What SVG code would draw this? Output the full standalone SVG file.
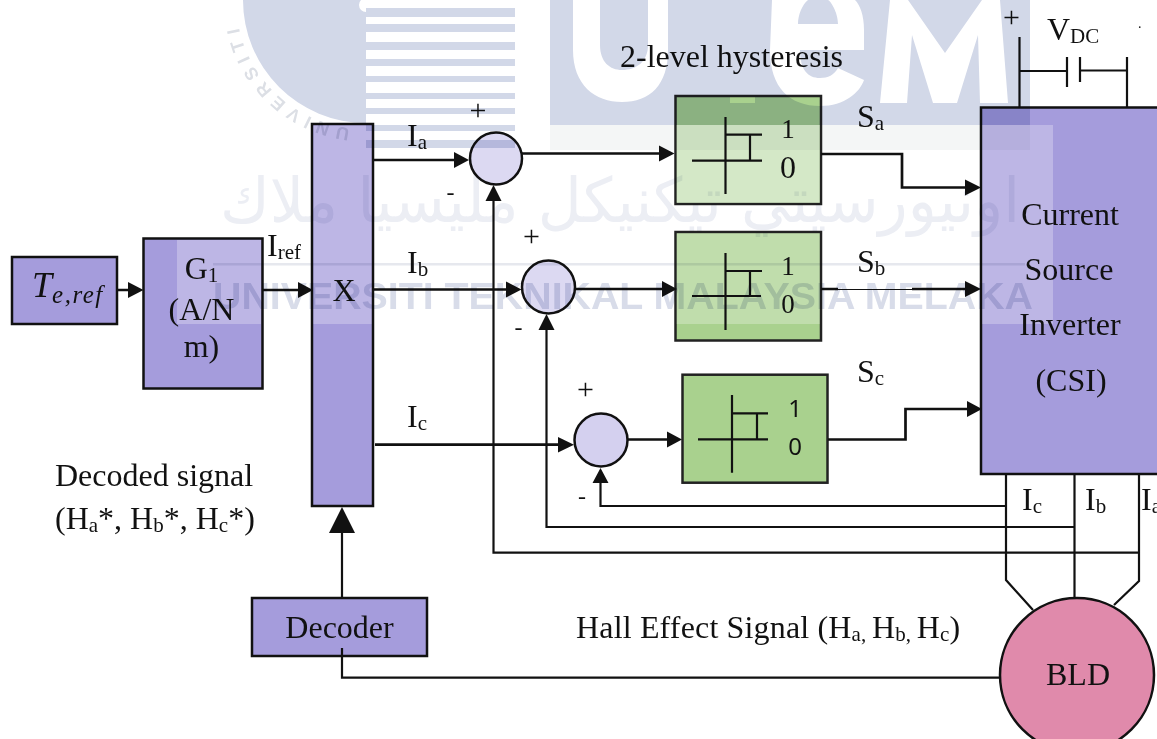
<svg xmlns="http://www.w3.org/2000/svg" width="1157" height="739" viewBox="0 0 1157 739">
<style>
text{font-family:"Liberation Serif","Times New Roman",serif;font-size:32px;fill:#111}
.m{text-anchor:middle}
.s{font-size:21px}
.b{fill:#a59cdc;stroke:#111;stroke-width:2.5}
.g{fill:#a9d18e;stroke:#222;stroke-width:2.5}
.o{fill:#d4d0ef;stroke:#111;stroke-width:2.5}
.w{fill:none;stroke:#111;stroke-width:2.7}
.t{fill:none;stroke:#111;stroke-width:2.2}
.h{fill:none;stroke:#111;stroke-width:2.2}
.a{fill:#111}
.l{fill:#fff;fill-opacity:.27}
.l2{fill:#fff;fill-opacity:.5}
.c{font-family:"Noto Sans",sans-serif;font-size:24px}
.p{font-size:30px}
.d{font-size:24px}
.wm{mix-blend-mode:multiply;fill:#d2d8e8}
</style>
<rect width="1157" height="739" fill="#fff"/>
<g id="node-te"><rect class="b" x="12" y="257" width="105" height="67"/><text x="32" y="297" font-style="italic" style="font-size:36px">T<tspan dy="6" style="font-size:25px" letter-spacing="1.5">e,ref</tspan></text></g>
<g id="node-g1"><rect class="b" x="143.500" y="238.500" width="119" height="150"/><rect class="l" x="177" y="240" width="84" height="84"/><text class="m" x="201.500" y="279">G<tspan class="s" dy="3">1</tspan></text><text class="m" x="201.500" y="320">(A/N</text><text class="m" x="201.500" y="357">m)</text></g>
<g id="node-x"><rect class="b" x="312" y="124" width="61" height="382"/><rect class="l" x="313.500" y="125.500" width="58" height="198.500"/><text class="m" x="344" y="301">X</text></g>
<g id="node-sum-a"><circle class="o" cx="496" cy="158.500" r="26" style="fill:#dcd9f2"/></g>
<g id="node-sum-b"><circle class="o" cx="548.500" cy="287" r="26.500" style="fill:#dcd9f2"/></g>
<g id="node-sum-c"><circle class="o" cx="601" cy="440" r="26.500"/></g>
<g id="node-hyst-a"><rect class="g" x="675.500" y="96" width="145.500" height="108"/><rect class="l2" x="676.700" y="125" width="143" height="77.800"/><path class="h" d="M725.500 117V194M692 160.700H762M725.500 134.700H762M750 134.700V160.700"/><text class="m" x="788" y="138" style="font-size:27px">1</text><text class="m" x="788" y="178">0</text></g>
<g id="node-hyst-b"><rect class="g" x="675.500" y="232" width="145.500" height="108.500"/><rect class="l" x="676.700" y="233.200" width="143" height="90.800"/><path class="h" d="M725.500 253V330M692 296H761M725.500 271H762M750 271V296"/><text class="m" x="788" y="275" style="font-size:27px">1</text><text class="m" x="788" y="313" style="font-size:27px">0</text></g>
<g id="node-hyst-c"><rect class="g" x="682.500" y="374.700" width="145" height="108"/><path class="h" d="M732 395V472.700M698 439.300H768M732 413.300H768M757 413.300V439.300"/><text class="m c" x="795" y="417">1</text><text class="m c" x="795" y="455">0</text></g>
<g id="node-csi"><rect class="b" x="981" y="107.500" width="190" height="366.500"/><rect class="l" x="982.300" y="125" width="70.700" height="199"/><text class="m" x="1070" y="225">Current</text><text class="m" x="1069" y="280">Source</text><text class="m" x="1070" y="335">Inverter</text><text class="m" x="1071" y="391">(CSI)</text></g>
<g id="node-decoder"><rect class="b" x="252" y="598" width="175" height="58"/><text class="m" x="339.500" y="638">Decoder</text></g>
<g id="node-bld"><circle cx="1077" cy="675" r="77" fill="#e08aab" stroke="#111" stroke-width="2.500"/><text class="m" x="1078" y="685">BLD</text></g>
<g id="connectors">
<path class="w" d="M117 290H130M262 290H300M374 160H456M373 289.500H509M375 444.700H560M522 153.500H661M575 289H664M628 439.500H669M821 154H902V187.500H967M821 289H838M912 289H967M828 439.500H905.500V409H969"/>
<path class="t" d="M1006 506H600.500V482M1074.500 527H546.500V329M1139 552.700H493.500V200M1006 474V580L1033 610M1074.500 474V598M1139 474V581L1114 605M342 598V530M342 648V677.700H1000M1019.500 37V107.500M1019.500 71H1067M1067 57V87M1080 57V82M1080 70.500H1127M1127 57V107.500"/>
<path d="M838 289.500H912" fill="none" stroke="#111" stroke-width="1.200"/>
<path class="a" d="M128 282L143.500 290L128 298ZM298 282L313 290L298 298ZM454 152L469 160L454 168ZM506 281.500L521.500 289.500L506 297.500ZM558 437L574 444.700L558 452.500ZM659 145.500L674.500 153.500L659 161.500ZM662 281L677 289L662 297ZM667 431.500L682 439.500L667 447.500ZM965 179.500L981 187.500L965 195.500ZM965 281L981 289L965 297ZM967 401L982 409L967 417ZM592.500 483L600.500 468L608.500 483ZM538.500 330L546.500 314L554.500 330ZM485.500 201L493.500 185L501.500 201ZM329 533L342 507L355 533Z"/>
</g>
<g id="labels">
<text x="620" y="67">2-level hysteresis</text>
<text x="267" y="256">I<tspan class="s" dy="3">ref</tspan></text>
<text x="407" y="146">I<tspan class="s" dy="3">a</tspan></text>
<text x="407" y="273">I<tspan class="s" dy="3">b</tspan></text>
<text x="407" y="427">I<tspan class="s" dy="3">c</tspan></text>
<text class="m p" x="478" y="120">+</text><text class="m p" x="531.500" y="246">+</text><text class="m p" x="585.500" y="399">+</text><text class="m p" x="1011.500" y="27">+</text>
<text class="m d" x="450.500" y="200">-</text><text class="m d" x="518.500" y="335">-</text><text class="m d" x="582" y="504">-</text>
<text x="857" y="127">S<tspan class="s" dy="3">a</tspan></text>
<text x="857" y="272">S<tspan class="s" dy="3">b</tspan></text>
<text x="857" y="382">S<tspan class="s" dy="3">c</tspan></text>
<text x="1047" y="40">V<tspan class="s" dy="3">DC</tspan></text>
<text x="1138" y="28" style="font-size:14px">.</text>
<text x="1022" y="510">I<tspan class="s" dy="3">c</tspan></text>
<text x="1085" y="510">I<tspan class="s" dy="3">b</tspan></text>
<text x="1141" y="510">I<tspan class="s" dy="3">a</tspan></text>
<text x="55" y="486">Decoded signal</text>
<text x="55" y="529">(H<tspan class="s" dy="3">a</tspan><tspan dy="-3">*, H</tspan><tspan class="s" dy="3">b</tspan><tspan dy="-3">*, H</tspan><tspan class="s" dy="3">c</tspan><tspan dy="-3">*)</tspan></text>
<text x="576" y="638" letter-spacing=".16">Hall Effect Signal (H<tspan class="s" dy="3">a, </tspan><tspan dy="-3">H</tspan><tspan class="s" dy="3">b, </tspan><tspan dy="-3">H</tspan><tspan class="s" dy="3">c</tspan><tspan dy="-3">)</tspan></text>
</g>
<g id="watermark">
<rect class="wm" x="550" y="125" width="480" height="25" style="fill:#f4f6f6"/>
<path class="wm" d="M243 0A123 123 0 0 0 366 123V12A7 7 0 0 1 359 5A7 7 0 0 1 361 0Z"/>
<path class="wm" d="M366 8h149v9h-149zM366 24h149v8h-149zM366 42h149v8h-149zM366 59h149v7h-149zM366 76h149v6h-149zM366 93h149v6h-149zM366 108h149v6h-149zM366 125h149v6h-149zM366 140h149v8h-149z"/>
<path class="wm" fill-rule="evenodd" d="M550 0H1030V125H550ZM573 0V50C573 85 595 102 622 102C650 102 668 85 668 50V0ZM600 0V45C600 62 610 70 622 70C636 70 648 62 648 45V0ZM772 0L770 50C770 88 790 106 820 106C845 106 860 92 864 80L838 68C834 75 828 78 820 78C808 78 800 70 800 50H864V30C864 15 860 5 855 0ZM798 24H838C838 12 830 0 828 0H808C802 5 798 15 798 24ZM890 0L880 103H907L912 35L933 103H957L978 35L980 103H1008L1000 0H982L945 53L908 0ZM730 97H755V103H730Z"/>
<path class="wm" d="M213 263H1025V265.500H213Z" style="fill:#e6e8ee"/>
<text class="wm" x="213" y="309" textLength="820" lengthAdjust="spacingAndGlyphs" style="font-family:'Liberation Sans',sans-serif;font-weight:700;font-size:37px;fill:#d8dce9">UNIVERSITI TEKNIKAL MALAYSIA MELAKA</text>
<text class="wm" x="1020" y="222" direction="rtl" textLength="800" lengthAdjust="spacingAndGlyphs" style="font-family:'DejaVu Sans',sans-serif;font-size:62px;fill:#eceef4">اونيورسيتي تيكنيكل مليسيا ملاك</text>
<path id="seal" d="M350 128A128 128 0 0 1 236 0" fill="none"/>
<text class="wm" style="font-family:'Liberation Sans',sans-serif;font-size:18px;font-weight:700;fill:#dcdfe5" letter-spacing="6.500"><textPath href="#seal">UNIVERSITI</textPath></text>
</g>
</svg>
